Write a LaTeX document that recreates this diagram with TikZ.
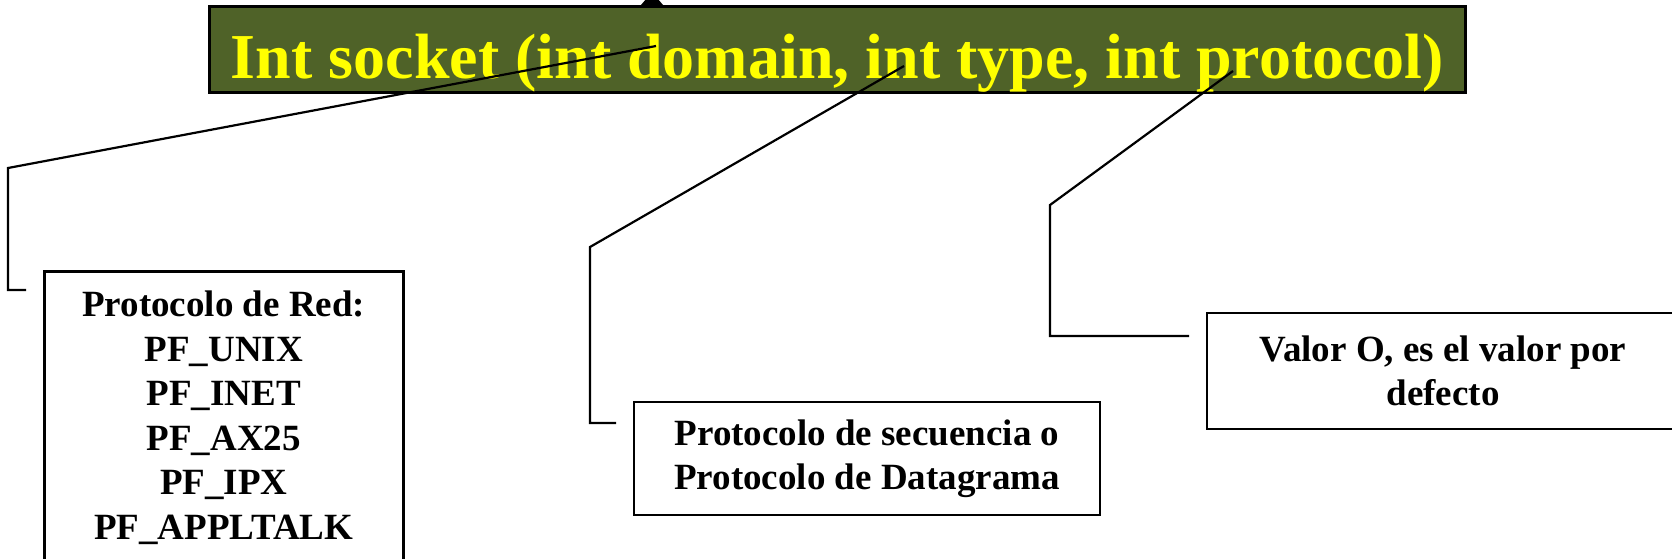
\documentclass[tikz,border=0pt]{standalone}
\usepackage{fontspec}
\setmainfont{Liberation Serif}
\definecolor{titlegreen}{RGB}{79,98,40}
\definecolor{titleyellow}{RGB}{255,255,0}
\begin{document}
\begin{tikzpicture}[x=1pt,y=-1pt,
  conn/.style={line width=2.2pt, line join=miter},
  box/.style={draw, line width=2.5pt, fill=white, inner xsep=0pt,
    font=\fontsize{37}{44.5}\selectfont\bfseries, align=center},
  titlebox/.style={draw, line width=3pt, fill=titlegreen, text=titleyellow,
    font=\fontsize{64}{77}\selectfont\bfseries, inner sep=0pt},
]
\useasboundingbox (0,0) rectangle (1672,558);
\clip (0,0) rectangle (1672,558);
% partial arrow tip above the title
\fill (641,5) -- (663,5) -- (652,-8) -- cycle;
% title
\node[titlebox, anchor=north west, minimum width=1256pt, text height=72pt, text depth=14pt] (title) at (208,5)
  {Int socket (int domain, int type, int protocol)};
% boxes
\node[box, anchor=north west, minimum width=359pt, inner ysep=20pt] (dom) at (43,270)
  {Protocolo de Red:\\PF\_UNIX\\PF\_INET\\PF\_AX25\\PF\_IPX\\PF\_APPLTALK};
\node[box, minimum width=466pt, minimum height=113pt] (typ) at (867,458.5)
  {Protocolo de secuencia o\\Protocolo de Datagrama};
\node[box, minimum width=472pt, minimum height=116pt] (pro) at (1443,371)
  {Valor O, es el valor por\\defecto};
% connector ends
\coordinate (s1) at (656,46);
\coordinate (e1) at (26,290);
\coordinate (s2) at (904,66);
\coordinate (e2) at (616,423);
\coordinate (s3) at (1233,71);
\coordinate (e3) at (1189,336);
% connectors
\draw[conn] (s1) -- (8,168) |- (e1);
\draw[conn] (s2) -- (590,247) |- (e2);
\draw[conn] (s3) -- (1050,205) |- (e3);
\end{tikzpicture}
\end{document}
